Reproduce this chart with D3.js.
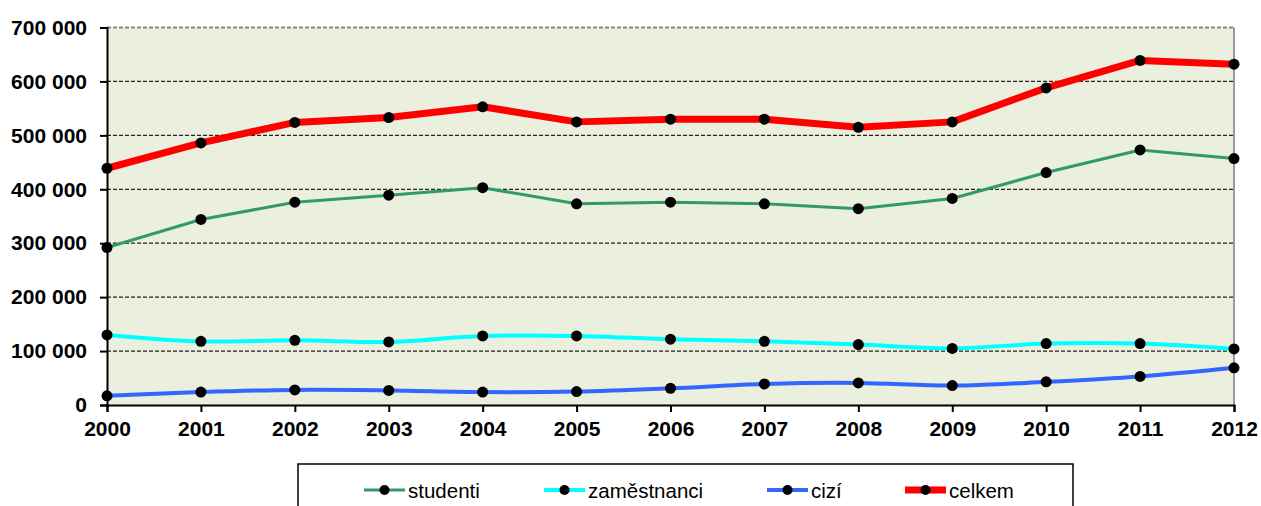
<!DOCTYPE html>
<html>
<head>
<meta charset="utf-8">
<script src="https://cdn.jsdelivr.net/npm/d3@7"></script>
<style>
  body { margin: 0; background: #fff; }
  svg { display: block; font-family: "Liberation Sans", Arial, sans-serif; }
  .tick-label { font-weight: bold; font-size: 21px; fill: #000; }
  .legend-text { font-size: 20.5px; fill: #000; }
</style>
</head>
<body>
<div id="chart"></div>
<script>
// data
var years = [2000, 2001, 2002, 2003, 2004, 2005, 2006, 2007, 2008, 2009, 2010, 2011, 2012];
var studenti = [292000, 344000, 376000, 389000, 403000, 373000, 376000, 373000, 364000, 383000, 431000, 473000, 457000];
var zamestnanci = [130000, 118000, 120000, 117000, 128000, 128000, 122000, 118000, 112000, 105000, 114000, 114000, 104000];
var cizi = [17000, 24000, 28000, 27000, 24000, 25000, 31000, 39000, 41000, 36000, 43000, 53000, 69000];
var celkem = [439000, 486000, 524000, 533000, 553000, 525000, 530000, 530000, 515000, 525000, 588000, 639000, 632000];
var yTicks = [0, 100000, 200000, 300000, 400000, 500000, 600000, 700000];

var seriesNames = ["studenti", "zaměstnanci", "cizí", "celkem"];
var seriesValues = [studenti, zamestnanci, cizi, celkem];
var seriesColors = ["#339966", "#00FFFF", "#3366FF", "#FF0000"];
var seriesWidths = [3, 4, 4, 7];
var seriesSmooth = [false, true, true, false];

let width = 1261;
let height = 506;
let margin = {left: 107, right: 27, top: 27.5, bottom: 101};

let svg = d3.select("#chart").append("svg")
    .attr("width", width)
    .attr("height", height);

let x = d3.scalePoint()
    .domain(years)
    .range([margin.left, width - margin.right]);

let y = d3.scaleLinear()
    .domain([0, 700000])
    .range([height - margin.bottom, margin.top]);

let fmt = v => d3.format(",")(v).replace(/,/g, " ");

// plot background
svg.append("rect")
    .attr("x", margin.left)
    .attr("y", margin.top)
    .attr("width", width - margin.right - margin.left)
    .attr("height", height - margin.bottom - margin.top)
    .attr("fill", "#EBEFDE");

// dashed gridlines
svg.append("g")
    .selectAll("line")
    .data(yTicks.filter(d => d > 0))
    .enter().append("line")
    .attr("x1", margin.left)
    .attr("x2", width - margin.right)
    .attr("y1", d => y(d))
    .attr("y2", d => y(d))
    .attr("stroke", d => d == 700000 ? "#888" : "#222")
    .attr("stroke-width", d => d == 700000 ? 2 : 1.2)
    .attr("stroke-dasharray", "4,2");

// right border
svg.append("line")
    .attr("x1", width - margin.right)
    .attr("x2", width - margin.right)
    .attr("y1", margin.top)
    .attr("y2", height - margin.bottom)
    .attr("stroke", "#999")
    .attr("stroke-width", 2);

// y axis
let yAxis = svg.append("g")
    .attr("transform", "translate(" + margin.left + ",0)")
    .call(d3.axisLeft(y).tickValues(yTicks).tickSize(7).tickPadding(13).tickFormat(fmt));
yAxis.select(".domain").attr("stroke", "#000").attr("stroke-width", 2);
yAxis.selectAll(".tick line").attr("stroke", "#000").attr("stroke-width", 2);
yAxis.selectAll("text").attr("class", "tick-label").attr("font-family", null).attr("font-size", null);

// x axis
let xAxis = svg.append("g")
    .attr("transform", "translate(0," + (height - margin.bottom) + ")")
    .call(d3.axisBottom(x).tickSize(7).tickPadding(9));
xAxis.select(".domain").attr("stroke", "#000").attr("stroke-width", 2);
xAxis.selectAll(".tick line").attr("stroke", "#000").attr("stroke-width", 2);
xAxis.selectAll("text").attr("class", "tick-label").attr("font-family", null).attr("font-size", null);

// series lines + markers
seriesValues.forEach((vals, i) => {
    let line = d3.line()
        .x((d, j) => x(years[j]))
        .y(d => y(d))
        .curve(seriesSmooth[i] ? d3.curveCatmullRom.alpha(0.5) : d3.curveLinear);

    svg.append("path")
        .datum(vals)
        .attr("d", line)
        .attr("fill", "none")
        .attr("stroke", seriesColors[i])
        .attr("stroke-width", seriesWidths[i])
        .attr("stroke-linejoin", "round");

    svg.append("g")
        .selectAll("circle")
        .data(vals)
        .enter().append("circle")
        .attr("cx", (d, j) => x(years[j]))
        .attr("cy", d => y(d))
        .attr("r", 5.5)
        .attr("fill", "#000");
});

// legend
svg.append("rect")
    .attr("x", 298)
    .attr("y", 464)
    .attr("width", 775)
    .attr("height", 60)
    .attr("fill", "#fff")
    .attr("stroke", "#000")
    .attr("stroke-width", 1.5);

var legendX = [364, 544, 767, 905];
var legendY = 490;
seriesNames.forEach((name, i) => {
    let g = svg.append("g").attr("transform", "translate(" + legendX[i] + "," + legendY + ")");
    g.append("line")
        .attr("x1", 0).attr("x2", 41)
        .attr("y1", 0).attr("y2", 0)
        .attr("stroke", seriesColors[i])
        .attr("stroke-width", seriesWidths[i]);
    g.append("circle")
        .attr("cx", 20.5).attr("cy", 0).attr("r", 5)
        .attr("fill", "#000");
    g.append("text")
        .attr("class", "legend-text")
        .attr("x", 44)
        .attr("y", 7.5)
        .text(name);
});
</script>
</body>
</html>
